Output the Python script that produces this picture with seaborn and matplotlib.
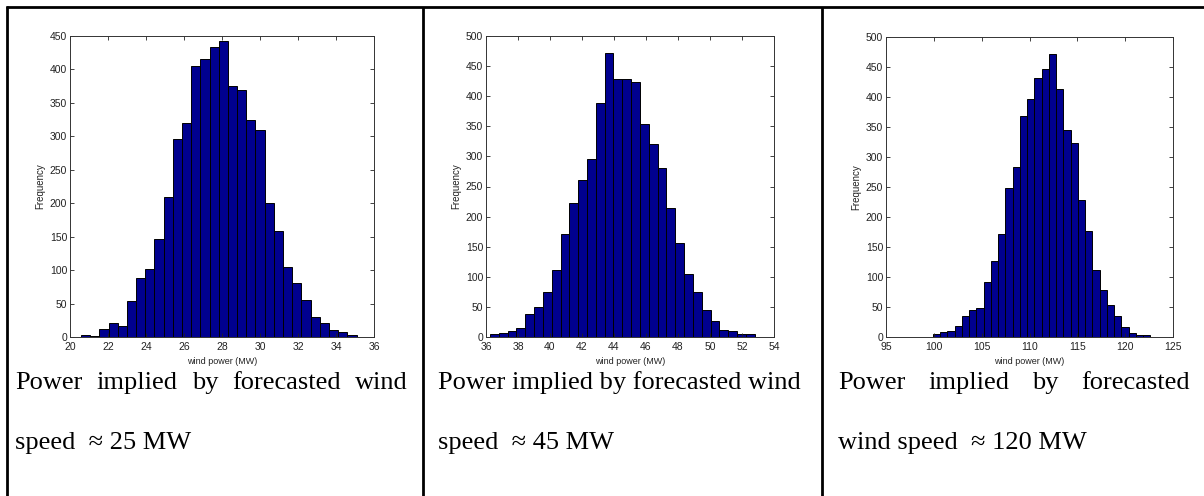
import numpy as np
import pandas as pd
import matplotlib
matplotlib.use("Agg")
import matplotlib.pyplot as plt
from matplotlib.lines import Line2D
import seaborn as sns

# ---- histogram data (counts per bin) ----
counts_25 = [3.5, 2, 12.5, 21, 17, 53.5, 88.5, 101, 146, 209, 296, 320, 405.5, 416,
             433, 442.5, 375, 370, 325, 309.5, 200, 158, 105, 81, 56, 29.5, 20.5, 11, 7, 3.5]
bin_start_25, bin_width_25 = 20.58, 0.4833

counts_45 = [5.5, 7, 10.5, 15, 38, 50, 74.5, 112, 170.5, 222, 260, 296.5, 388, 472,
             429, 428, 423, 353, 320.5, 280.5, 214.5, 156, 104.5, 75.5, 44.5, 27, 12, 10.5, 5.5, 4.5]
bin_start_45, bin_width_45 = 36.25, 0.5513

counts_120 = [5.5, 8, 10, 18, 35.5, 45.5, 48, 91, 127, 172, 249, 283, 368, 396,
              432, 447, 471, 414, 345, 324, 228, 177, 112, 78, 53, 34.5, 17, 6.5, 4, 4]
bin_start_120, bin_width_120 = 99.91, 0.757

xlims = [(20, 36), (36, 54), (95, 125)]
xticks = [np.arange(20, 37, 2), np.arange(36, 55, 2), np.arange(95, 126, 5)]
ylims = [(0, 450), (0, 500), (0, 500)]

captions = [
    ("Power implied by forecasted wind", "speed  \u2248 25 MW"),
    ("Power implied by forecasted wind", "speed  \u2248 45 MW"),
    ("Power implied by forecasted", "wind speed  \u2248 120 MW"),
]

W, H = 1204, 496
fig = plt.figure(figsize=(W / 100, H / 100), dpi=100)
fig.patch.set_facecolor("white")

BAR = "#00008F"

def px_axes(l, t, r, b):
    return fig.add_axes([l / W, 1 - b / H, (r - l) / W, (b - t) / H])

axes_px = [(70, 36, 374, 337), (486, 36, 774, 337), (886, 37, 1173, 337)]
hist_sets = [
    (counts_25, bin_start_25, bin_width_25),
    (counts_45, bin_start_45, bin_width_45),
    (counts_120, bin_start_120, bin_width_120),
]

for i, (box, (cnt, start, width)) in enumerate(zip(axes_px, hist_sets)):
    ax = px_axes(*box)
    cnt = np.asarray(cnt, dtype=float)
    edges = start + width * np.arange(len(cnt) + 1)
    df = pd.DataFrame({"power": 0.5 * (edges[:-1] + edges[1:]), "count": cnt})
    sns.histplot(data=df, x="power", weights="count", bins=list(edges), ax=ax,
                 color=BAR, edgecolor="black", linewidth=0.7, alpha=1.0)
    ax.set_xlim(*xlims[i])
    ax.set_ylim(*ylims[i])
    ax.set_xticks(xticks[i])
    ax.set_yticks(np.arange(ylims[i][0], ylims[i][1] + 1, 50))
    ax.tick_params(direction="in", length=3, width=0.6, top=True, right=True,
                   labelsize=7.5, colors="#222222")
    ax.tick_params(axis="x", pad=3.5)
    ax.tick_params(axis="y", pad=2)
    for lab in ax.get_xticklabels() + ax.get_yticklabels():
        lab.set_family("Liberation Sans")
    for s in ax.spines.values():
        s.set_linewidth(0.7)
        s.set_color("#333333")
    ax.set_xlabel("wind power (MW)", fontsize=6.5, family="Liberation Sans",
                  labelpad=4, color="#222222")
    ax.set_ylabel("Frequency", fontsize=7, family="Liberation Sans", labelpad=3,
                  color="#222222")

# ---- table borders ----
lw = 2.0
def hline(y, x0, x1):
    fig.add_artist(Line2D([x0 / W, x1 / W], [1 - y / H, 1 - y / H], color="black",
                          lw=lw, transform=fig.transFigure, solid_capstyle="butt"))
def vline(x, y0, y1):
    fig.add_artist(Line2D([x / W, x / W], [1 - y0 / H, 1 - y1 / H], color="black",
                          lw=lw, transform=fig.transFigure, solid_capstyle="butt"))

hline(7, 6, W)
vline(7, 6, H)
vline(423, 7, H)
vline(822, 7, H)

# ---- captions ----
CAP_FONT = dict(family="Liberation Serif", fontsize=19, color="black")
renderer = fig.canvas.get_renderer()

def draw_line(text, x0, x1, y, justify):
    if not justify:
        fig.text(x0 / W, 1 - y / H, text, ha="left", va="baseline", **CAP_FONT)
        return
    words = text.split()
    objs = [fig.text(0, 1 - y / H, w, ha="left", va="baseline", **CAP_FONT) for w in words]
    widths = [o.get_window_extent(renderer).width for o in objs]
    gap = (x1 - x0 - sum(widths)) / (len(words) - 1)
    x = x0
    for o, w in zip(objs, widths):
        o.set_x(x / W)
        x += w + gap

line_x = [(15, 408, True), (438, 808, False), (838, 1190, True)]
for (l1, l2), (x0, x1, just) in zip(captions, line_x):
    draw_line(l1, x0, x1, 389, just)
    draw_line(l2, x0, x1, 449, False)

fig.savefig("out.png", dpi=100, facecolor="white")
